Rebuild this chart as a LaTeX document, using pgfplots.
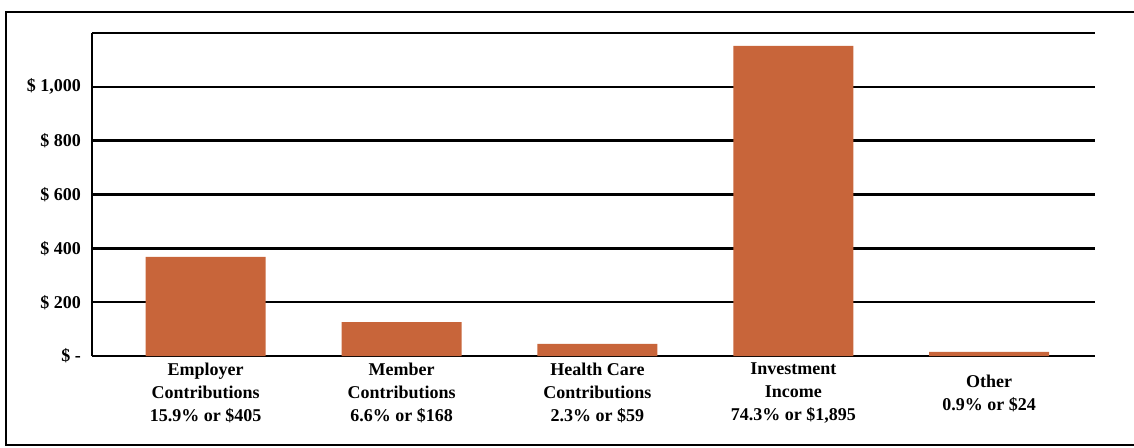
\documentclass[border=0pt]{standalone}
\usepackage{fontspec}
\setmainfont{Liberation Serif}
\usepackage{pgfplots}
\pgfplotsset{compat=1.18}
\definecolor{barc}{RGB}{200,101,58}
\begin{document}
\begin{tikzpicture}
\useasboundingbox (-46pt,-45.5pt) rectangle (521pt,178pt);
\draw[line width=1.2pt] (521pt,172pt) -- (-43pt,172pt) -- (-43pt,-44.5pt) -- (521pt,-44.5pt);
\begin{axis}[
  at={(0,0)}, anchor=south west,
  scale only axis, width=501.5pt, height=161.5pt,
  xmin=-0.58, xmax=4.54, ymin=0, ymax=1200,
  axis x line*=bottom, axis y line*=left,
  axis line style={line width=1.2pt, black, -},
  ymajorgrids, grid style={line width=1.2pt, black},
  major tick length=0pt,
  ytick={0,200,400,600,800,1000,1200},
  yticklabels={\$ -, \$ 200, \$ 400, \$ 600, \$ 800, {\$ 1,000}, {}},
  yticklabel style={font=\fontsize{9}{11}\selectfont\bfseries, xshift=-2pt},
  xtick={0,1,2,3,4},
  xticklabels={{Employer\\Contributions\\15.9\% or \$405},{Member\\Contributions\\6.6\% or \$168},{Health Care\\Contributions\\2.3\% or \$59},{Investment\\Income\\74.3\% or \$1,895},{Other\\0.9\% or \$24}},
  xticklabel style={font=\fontsize{9}{11.5}\selectfont\bfseries, align=center, anchor=center, yshift=-18.5pt},
  /pgf/number format/assume math mode=true,
]
\addplot[ybar, bar width=60pt, fill=barc, draw=none] coordinates {(0,368) (1,126) (2,45) (3,1152) (4,15)};
\end{axis}
\end{tikzpicture}
\end{document}
